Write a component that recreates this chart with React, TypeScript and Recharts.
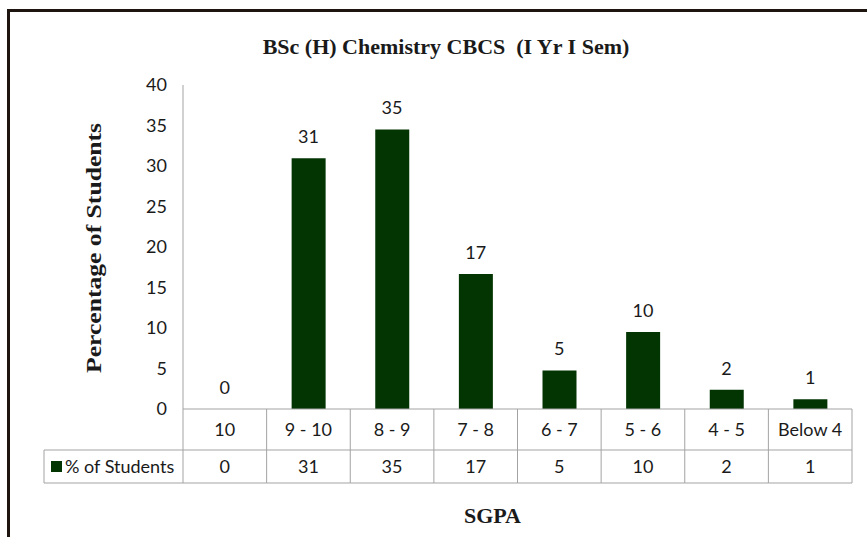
import { Bar, ComposedChart, Line, XAxis, YAxis, LabelList, Label } from 'recharts';

const categories = ['10', '9 - 10', '8 - 9', '7 - 8', '6 - 7', '5 - 6', '4 - 5', 'Below 4'];
const percentStudents = [0, 30.95, 34.52, 16.67, 4.76, 9.52, 2.38, 1.19];
const yTicks = [0, 5, 10, 15, 20, 25, 30, 35, 40];

const seriesName = '% of Students';
const chartTitle = 'BSc (H) Chemistry CBCS  (I Yr I Sem)';
const yTitle = 'Percentage of Students';
const xTitle = 'SGPA';

const data = categories.map((name, i) => ({ name, value: percentStudents[i] }));

const W = 867;
const H = 537;
const MARGIN = { top: 85, right: 15, left: 73, bottom: 10 };
const Y_AXIS_W = 110;
const X_AXIS_H = 118;
const PLOT_W = W - MARGIN.left - MARGIN.right - Y_AXIS_W;
const BAND = PLOT_W / categories.length;

const BAR = '#033503';
const GRID = '#a3a3a3';
const TEXT = '#1a1a1a';
const SANS = 'Lato, "Open Sans", sans-serif';
const SERIF = '"Liberation Serif", "DejaVu Serif", serif';

const ROW1 = 41;
const ROW2 = 33;
const LEGEND_LEFT = 44;

function TableTick(props: any) {
  const { x, y, payload, index } = props;
  const left = x - BAND / 2;
  const right = x + BAND / 2;
  const v = percentStudents[index];
  return (
    <g>
      <line x1={left} y1={y} x2={left} y2={y + ROW1 + ROW2} stroke={GRID} />
      {index === categories.length - 1 && (
        <line x1={right} y1={y} x2={right} y2={y + ROW1 + ROW2} stroke={GRID} />
      )}
      <line x1={left} y1={y + ROW1} x2={right} y2={y + ROW1} stroke={GRID} />
      <line x1={left} y1={y + ROW1 + ROW2} x2={right} y2={y + ROW1 + ROW2} stroke={GRID} />
      <text x={x} y={y + ROW1 / 2 + 6} textAnchor="middle" fontSize={18} fontFamily={SANS} fill={TEXT}>
        {payload.value}
      </text>
      <text x={x} y={y + ROW1 + ROW2 / 2 + 6} textAnchor="middle" fontSize={18} fontFamily={SANS} fill={TEXT}>
        {Math.round(v)}
      </text>
      {index === 0 && (
        <g>
          <line x1={LEGEND_LEFT} y1={y + ROW1} x2={left} y2={y + ROW1} stroke={GRID} />
          <line x1={LEGEND_LEFT} y1={y + ROW1 + ROW2} x2={left} y2={y + ROW1 + ROW2} stroke={GRID} />
          <line x1={LEGEND_LEFT} y1={y + ROW1} x2={LEGEND_LEFT} y2={y + ROW1 + ROW2} stroke={GRID} />
          <rect x={LEGEND_LEFT + 7} y={y + ROW1 + 11} width={11} height={11} fill={BAR} />
          <text x={LEGEND_LEFT + 21} y={y + ROW1 + ROW2 / 2 + 6} fontSize={18} fontFamily={SANS} fill={TEXT}>
            {seriesName}
          </text>
        </g>
      )}
    </g>
  );
}

// value above each bar (sits on the invisible line so a zero value still gets its label)
function BarValueLabel(props: any) {
  const { x, y, value } = props;
  if (x == null || y == null) return null;
  return (
    <text x={x} y={Number(y) - 15} textAnchor="middle" fontSize={18} fontFamily={SANS} fill={TEXT}>
      {Math.round(Number(value))}
    </text>
  );
}

function YTitle(props: any) {
  const vb = props.viewBox || {};
  const cx = vb.x + 20;
  const cy = vb.y + vb.height / 2 + 1;
  return (
    <text
      x={cx}
      y={cy}
      transform={`rotate(-90, ${cx}, ${cy})`}
      textAnchor="middle"
      dy={8}
      textLength={250}
      lengthAdjust="spacingAndGlyphs"
      fontFamily={SERIF}
      fontWeight="bold"
      fontSize={22}
      fill={TEXT}
    >
      {yTitle}
    </text>
  );
}

export default function App() {
  return (
    <div style={{ position: 'absolute', left: 0, top: 0, width: W, height: H, overflow: 'hidden', background: '#fff' }}>
      <div
        style={{
          position: 'absolute',
          left: 7,
          top: 9,
          width: W,
          height: H,
          borderLeft: '3px solid #1e1510',
          borderTop: '3px solid #1e1510',
        }}
      />
      <div
        style={{
          position: 'absolute',
          left: 446,
          top: 33,
          transform: 'translateX(-50%)',
          whiteSpace: 'pre',
          fontFamily: SERIF,
          fontWeight: 'bold',
          fontSize: 22,
          lineHeight: '28px',
          color: TEXT,
        }}
      >
        {chartTitle}
      </div>
      <div style={{ position: 'absolute', left: 0, top: 0 }}>
        <ComposedChart width={W} height={H} data={data} margin={MARGIN}>
          <XAxis
            dataKey="name"
            height={X_AXIS_H}
            tickLine={false}
            tickSize={0}
            tickMargin={0}
            axisLine={{ stroke: GRID }}
            tick={<TableTick />}
            interval={0}
          >
            <Label
              value={xTitle}
              position="insideBottom"
              offset={4}
              dx={-25}
              style={{ fontFamily: SERIF, fontWeight: 'bold', fontSize: 22, fill: TEXT }}
            />
          </XAxis>
          <YAxis
            width={Y_AXIS_W}
            domain={[0, 40]}
            ticks={yTicks}
            tickLine={false}
            tickSize={0}
            tickMargin={16}
            axisLine={{ stroke: GRID }}
            tick={{ fontSize: 18, fontFamily: SANS, fill: TEXT }}
          >
            <Label content={<YTitle />} />
          </YAxis>
          <Bar dataKey="value" name={seriesName} fill={BAR} barSize={34} isAnimationActive={false} />
          <Line
            dataKey="value"
            stroke="none"
            dot={false}
            activeDot={false}
            legendType="none"
            isAnimationActive={false}
          >
            <LabelList dataKey="value" content={<BarValueLabel />} />
          </Line>
        </ComposedChart>
      </div>
    </div>
  );
}
